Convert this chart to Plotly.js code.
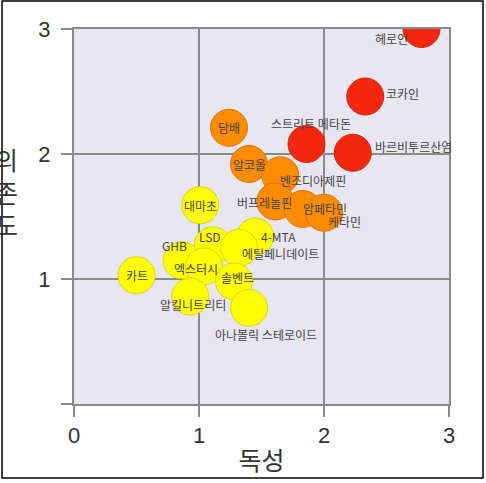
<!DOCTYPE html>
<html>
<head>
<meta charset="utf-8">
<script src="https://cdn.plot.ly/plotly-3.0.1.min.js"></script>
<style>
  body { margin: 0; padding: 0; background: #fff; }
  #chart { width: 486px; height: 483px; }
</style>
</head>
<body>
<div id="chart"></div>
<script>
// 약물: 독성 (x) 과 의존도 (y)
var drugs = ['헤로인', '코카인', '바르비투르산염', '스트리트 메타돈', '담배', '알코올',
  '벤조디아제핀', '버프레놀핀', '암페타민', '케타민', '대마초', 'LSD', 'GHB',
  '엑스터시', '4-MTA', '에틸페니데이트', '솔벤트', '알킬니트리티', '아나볼릭 스테로이드', '카트'];
var harm = [2.78, 2.33, 2.23, 1.86, 1.24, 1.40, 1.65, 1.61, 1.83, 2.00, 1.01, 1.11, 0.86,
  1.04, 1.45, 1.32, 1.28, 0.93, 1.40, 0.50];
var dependence = [3.00, 2.46, 2.01, 2.08, 2.21, 1.92, 1.83, 1.62, 1.56, 1.53, 1.59, 1.27, 1.15,
  1.10, 1.34, 1.25, 0.98, 0.86, 0.77, 1.03];
var group = ['high', 'high', 'high', 'high', 'mid', 'mid', 'mid', 'mid', 'mid', 'mid', 'low', 'low', 'low',
  'low', 'low', 'low', 'low', 'low', 'low', 'low'];
var ticks = [0, 1, 2, 3];

// 라벨 위치 (px, 원 중심 기준)
var labelDx = [-30, 37, 61, 4, 0, 0, 33, -11, 22, 20, 0, -3, -7, -8, 23, 41, 3, 3, 17, 0];
var labelDy = [9, -3, -6, -21, 0, 0, 5, 1, -1, 9, 0, -9, -15, 2, 0, 6, -4, 8, 27, 0];

var fill = { high: '#f5270f', mid: '#ff8c00', low: '#ffff00' };
var edge = { high: '#d82008', mid: '#d97400', low: '#d8d800' };

var trace = {
  x: harm,
  y: dependence,
  mode: 'markers',
  type: 'scatter',
  hoverinfo: 'text',
  text: drugs,
  marker: {
    size: 37,
    opacity: 1,
    color: group.map(function (g) { return fill[g]; }),
    line: { width: 1, color: group.map(function (g) { return edge[g]; }) }
  }
};

var notes = [];
for (var i = 0; i < drugs.length; i++) {
  notes.push({
    x: harm[i], y: dependence[i], xref: 'x', yref: 'y',
    text: drugs[i], showarrow: false,
    xanchor: 'center', yanchor: 'middle',
    xshift: labelDx[i], yshift: -labelDy[i],
    font: { family: 'Noto Sans CJK KR', size: 12, color: '#444' }
  });
}
notes.push({
  xref: 'paper', yref: 'paper', x: -0.179, y: 0.568,
  text: '의<br>존<br>도', showarrow: false,
  xanchor: 'center', yanchor: 'middle',
  font: { family: 'Noto Sans CJK KR', size: 25, color: '#333' }
});

var axisStyle = {
  range: [0, 3],
  tickvals: ticks,
  showgrid: true,
  gridcolor: '#8a8a8a',
  gridwidth: 2,
  zeroline: false,
  showline: true,
  mirror: true,
  linecolor: '#8a8a8a',
  linewidth: 2,
  ticks: 'outside',
  ticklen: 11,
  tickwidth: 2,
  tickcolor: '#8a8a8a',
  tickfont: { family: 'Liberation Sans', size: 22, color: '#333' },
  fixedrange: true
};

var xaxis = Object.assign({}, axisStyle, {
  ticktext: ['0', '1', '2', '3'],
  tickmode: 'array',
  title: { text: '독성', font: { family: 'Noto Sans CJK KR', size: 25, color: '#333' }, standoff: 5 }
});
var yaxis = Object.assign({}, axisStyle, {
  tickmode: 'array',
  ticktext: ['', '1', '2', '3'],
  ticklabelstandoff: 6
});

var layout = {
  width: 486,
  height: 483,
  margin: { l: 74, r: 37, t: 29, b: 79 },
  paper_bgcolor: '#ffffff',
  plot_bgcolor: '#e8e6f1',
  showlegend: false,
  xaxis: xaxis,
  yaxis: yaxis,
  annotations: notes,
  shapes: [{
    type: 'rect', xref: 'paper', yref: 'paper', layer: 'above',
    x0: -0.192, x1: 1.0907, y0: -0.197, y1: 1.0747,
    line: { color: '#000', width: 1.5 }
  }]
};

Plotly.newPlot('chart', [trace], layout, { displayModeBar: false, staticPlot: true });
</script>
</body>
</html>
